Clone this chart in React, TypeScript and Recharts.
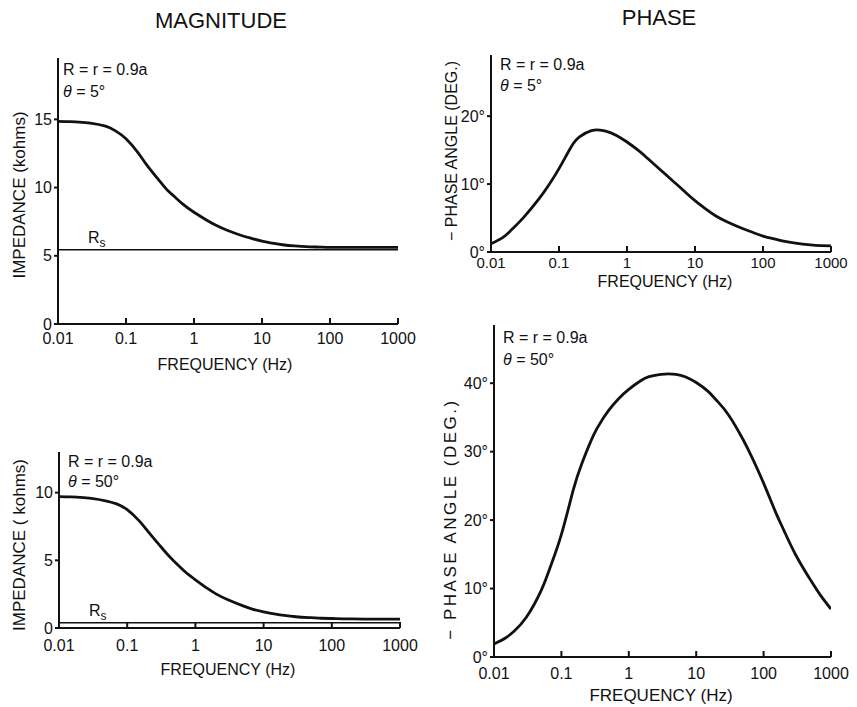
// Impedance magnitude / phase vs frequency, 4 panels (Recharts, log frequency axis).
import { LineChart, Line, XAxis, YAxis, ReferenceLine } from "recharts";

const freqs = [0.01, 0.015, 0.02, 0.03, 0.05, 0.07, 0.1, 0.15, 0.2, 0.3, 0.4, 0.5, 0.7, 1, 1.5, 2, 3, 5, 7,
  10, 15, 20, 30, 50, 70, 100, 150, 200, 300, 500, 700, 1000];
const freqTicks = [0.01, 0.1, 1, 10, 100, 1000];

// θ = 5°
const mag5 = [14.85, 14.83, 14.8, 14.73, 14.5, 14.16, 13.58, 12.56, 11.68, 10.58, 9.84, 9.4, 8.75, 8.19, 7.64, 7.29,
  6.89, 6.49, 6.28, 6.08, 5.91, 5.81, 5.72, 5.66, 5.64, 5.62, 5.62, 5.62, 5.62, 5.62, 5.62, 5.62];
const phase5 = [1.2, 2.14, 3.26, 5.06, 7.74, 9.79, 12.28, 15.43, 16.95, 17.86, 17.94, 17.75, 17.16, 16.19, 14.89, 13.8,
  12.22, 10.24, 8.93, 7.56, 6.2, 5.34, 4.41, 3.45, 2.9, 2.35, 1.9, 1.6, 1.3, 1.05, 0.95, 0.9];
const rs5 = 5.45;

// θ = 50°
const mag50 = [9.7, 9.68, 9.65, 9.58, 9.38, 9.17, 8.74, 7.91, 7.16, 6.1, 5.37, 4.88, 4.17, 3.56, 2.92, 2.52,
  2.08, 1.63, 1.38, 1.2, 1.03, 0.93, 0.83, 0.76, 0.72, 0.7, 0.68, 0.67, 0.66, 0.65, 0.65, 0.65];
const phase50 = [1.9, 2.82, 3.8, 5.77, 9.7, 13.4, 17.9, 24.4, 28.2, 32.4, 34.6, 36.0, 37.7, 39.1, 40.35, 40.95,
  41.3, 41.3, 40.9, 40.1, 38.8, 37.5, 35.4, 31.7, 28.8, 25.4, 21.2, 18.5, 14.9, 11.2, 9.0, 7.0];
const rs50 = 0.38;

const magTicks5 = [0, 5, 10, 15];
const magTicks50 = [0, 5, 10];
const phaseTicks5 = [0, 10, 20];
const phaseTicks50 = [0, 10, 20, 30, 40];

const INK = "#111";
const X_TICK = 5; // tickSize used for layout of the frequency labels
const Y_TICK = 4;

const RsLabel = (props: any) => {
  const vb = props.viewBox;
  return (
    <text x={vb.x + 30} y={vb.y - 7} fontSize={16} fill={INK}>
      R<tspan fontSize={12} dy={4}>s</tspan>
    </text>
  );
};

function Panel(props: {
  left: number; top: number; width: number; height: number;
  values: number[]; yTop: number; yTicks: number[]; deg?: boolean; rs?: number;
  xTickMargin: number; xTickFont?: number;
}) {
  const data = freqs.map((f, i) => ({ f, v: props.values[i] }));
  const xFont = props.xTickFont ?? 16;

  // frequency ticks: label below, short mark pointing up into the plot
  const xTick = (p: any) => {
    const axisY = p.y - X_TICK - props.xTickMargin;
    return (
      <g>
        {p.payload.value !== 0.01 && (
          <line x1={p.x} x2={p.x} y1={axisY} y2={axisY - 6} stroke={INK} strokeWidth={2} />
        )}
        <text x={p.x} y={p.y} dy="0.71em" textAnchor="middle" fontSize={xFont} fill={INK}>
          {String(p.payload.value)}
        </text>
      </g>
    );
  };
  // value ticks: short mark pointing out, label right-aligned
  const yTick = (p: any) => {
    const axisX = p.x + Y_TICK + 2;
    return (
      <g>
        <line x1={axisX - Y_TICK} x2={axisX} y1={p.y} y2={p.y} stroke={INK} strokeWidth={2} />
        <text x={p.x} y={p.y} dy="0.355em" textAnchor="end" fontSize={16} fill={INK}>
          {props.deg ? `${p.payload.value}°` : String(p.payload.value)}
        </text>
      </g>
    );
  };

  return (
    <div style={{ position: "absolute", left: props.left, top: props.top }}>
      <LineChart width={props.width} height={props.height} data={data}
        margin={{ top: 10, right: 25, bottom: 0, left: 0 }}>
        <XAxis dataKey="f" type="number" scale="log" domain={[0.01, 1000]} ticks={freqTicks}
          interval={0} allowDataOverflow height={30}
          stroke={INK} strokeWidth={2} tickSize={X_TICK} tickMargin={props.xTickMargin} tickLine={false}
          tick={xTick} />
        <YAxis type="number" domain={[0, props.yTop]} ticks={props.yTicks} interval={0}
          allowDataOverflow width={50}
          stroke={INK} strokeWidth={2} tickSize={Y_TICK} tickMargin={2} tickLine={false}
          tick={yTick} />
        {props.rs !== undefined && (
          <ReferenceLine y={props.rs} stroke={INK} strokeWidth={1.5} label={<RsLabel />} />
        )}
        <Line type="natural" dataKey="v" stroke={INK} strokeWidth={2.8} dot={false}
          isAnimationActive={false} />
      </LineChart>
    </div>
  );
}

export default function App() {
  return (
    <div style={{ position: "absolute", left: 0, top: 0, width: 857, height: 707, background: "#fff",
      fontFamily: "'Liberation Sans', Arial, sans-serif", color: INK }}>
      <Panel left={8} top={48} width={415} height={306} values={mag5} yTop={19.5} yTicks={magTicks5}
        rs={rs5} xTickMargin={4} />
      <Panel left={441} top={45} width={415} height={237} values={phase5} yTop={29} yTicks={phaseTicks5}
        deg xTickMargin={0} xTickFont={15} />
      <Panel left={9} top={442} width={416} height={216} values={mag50} yTop={13} yTicks={magTicks50}
        rs={rs50} xTickMargin={7} />
      <Panel left={444} top={315} width={412} height={372} values={phase50} yTop={48.5} yTicks={phaseTicks50}
        deg xTickMargin={6} />

      <svg width={857} height={707} style={{ position: "absolute", left: 0, top: 0, pointerEvents: "none" }}>
        <g fill={INK} fontFamily="'Liberation Sans', Arial, sans-serif">
          <text x={221} y={28} fontSize={22} textAnchor="middle">MAGNITUDE</text>
          <text x={659} y={25} fontSize={22} textAnchor="middle">PHASE</text>

          <text x={63} y={75} fontSize={16}>R = r = 0.9a</text>
          <text x={63} y={97} fontSize={16}><tspan fontStyle="italic">θ</tspan> = 5°</text>
          <text x={500} y={70} fontSize={16}>R = r = 0.9a</text>
          <text x={500} y={91} fontSize={16}><tspan fontStyle="italic">θ</tspan> = 5°</text>
          <text x={68} y={467} fontSize={16}>R = r = 0.9a</text>
          <text x={68} y={487} fontSize={16}><tspan fontStyle="italic">θ</tspan> = 50°</text>
          <text x={503} y={343} fontSize={16}>R = r = 0.9a</text>
          <text x={503} y={365} fontSize={16}><tspan fontStyle="italic">θ</tspan> = 50°</text>

          <text x={225} y={370} fontSize={16} textAnchor="middle">FREQUENCY (Hz)</text>
          <text x={665} y={287} fontSize={16} textAnchor="middle">FREQUENCY (Hz)</text>
          <text x={228} y={675} fontSize={16} textAnchor="middle">FREQUENCY (Hz)</text>
          <text x={661} y={701} fontSize={17} textAnchor="middle">FREQUENCY (Hz)</text>

          <text x={19} y={195} dy="0.36em" fontSize={17} textAnchor="middle" transform="rotate(-90 19 195)">IMPEDANCE (kohms)</text>
          <text x={451} y={151} dy="0.36em" fontSize={16} textAnchor="middle" transform="rotate(-90 451 151)">− PHASE ANGLE (DEG.)</text>
          <text x={19} y={545} dy="0.36em" fontSize={17} textAnchor="middle" transform="rotate(-90 19 545)">IMPEDANCE ( kohms)</text>
          <text x={450} y={519} dy="0.36em" fontSize={17} letterSpacing={2.5} textAnchor="middle" transform="rotate(-90 450 519)">− PHASE ANGLE (DEG.)</text>
        </g>
      </svg>
    </div>
  );
}
